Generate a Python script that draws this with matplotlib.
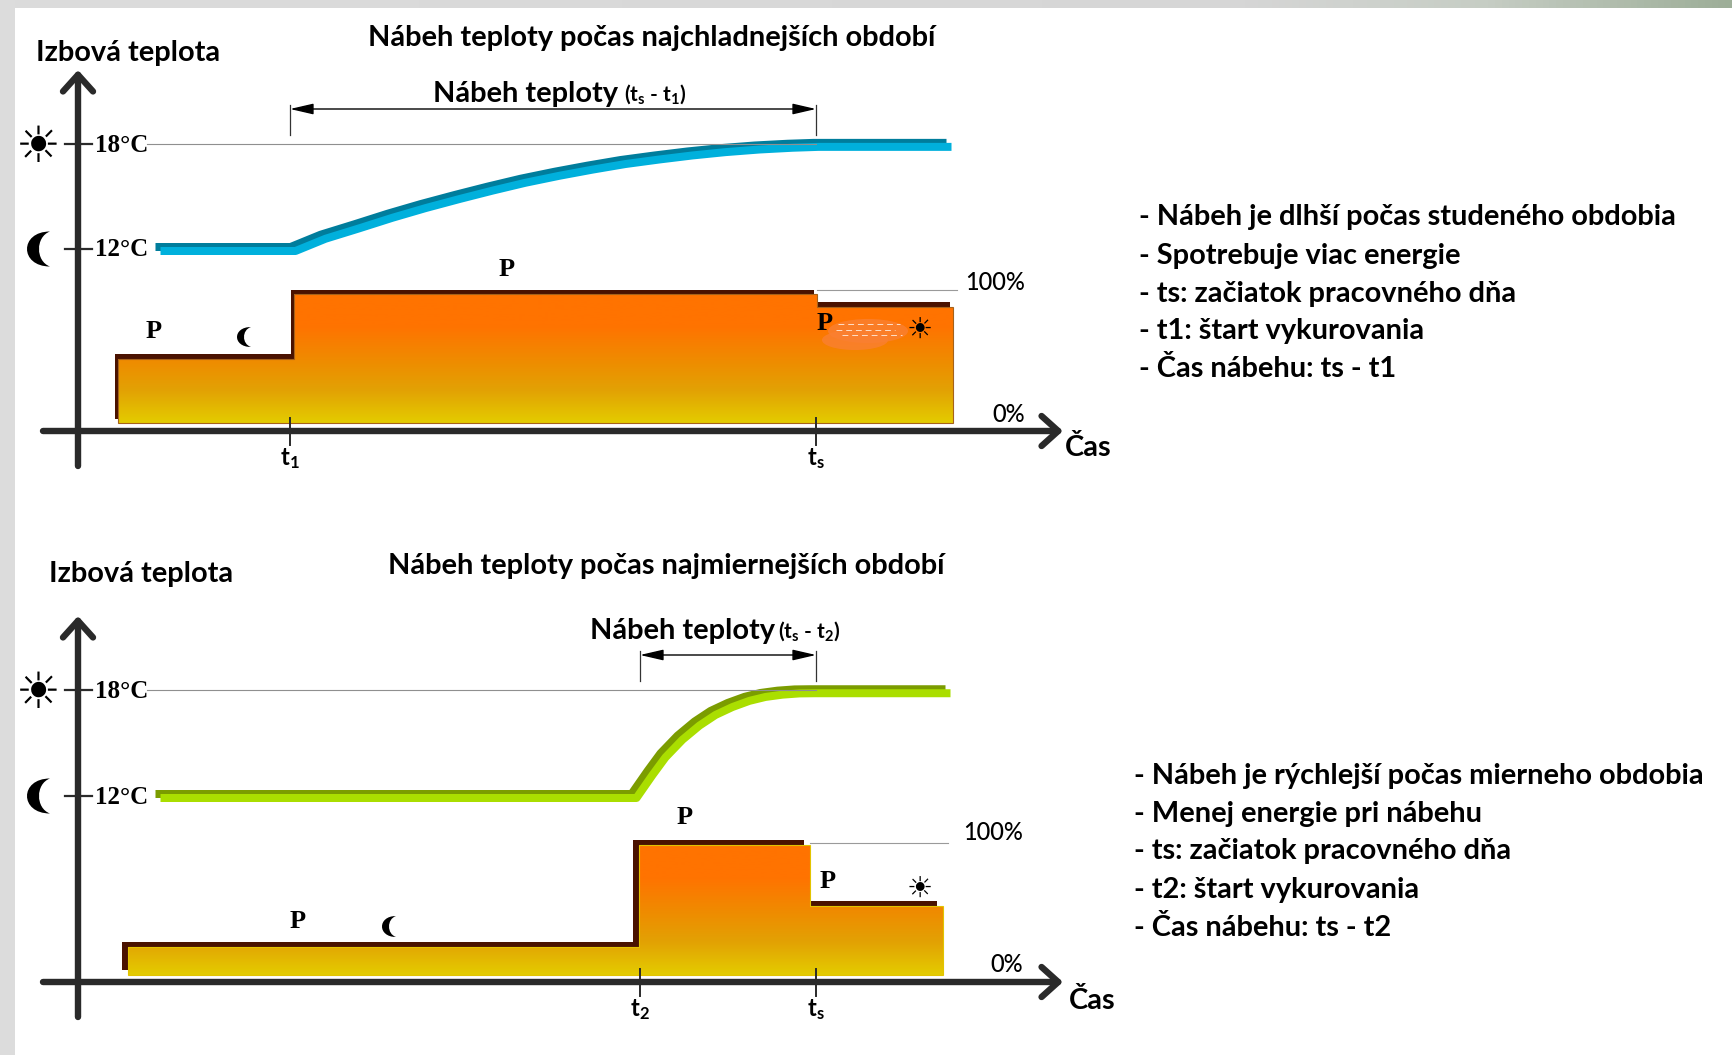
import numpy as np
import matplotlib as mpl

mpl.use('Agg')
import matplotlib.pyplot as plt
from matplotlib.colors import LinearSegmentedColormap
from matplotlib.patches import Ellipse, PathPatch, Polygon, Rectangle
from matplotlib.path import Path
from matplotlib.transforms import offset_copy

W, H = 1732, 1055

# heating curves: time (position along the axis) and room temperature in degC
cold_time = [158, 293, 323, 357, 390, 423, 457, 490, 523, 557, 590, 623, 657,
             690, 723, 757, 790, 816, 949]
cold_temp = [12.0, 12.0, 12.7, 13.3, 13.9, 14.45, 14.97, 15.45, 15.9, 16.3, 16.65,
             16.97, 17.23, 17.46, 17.65, 17.8, 17.9, 17.95, 17.95]
mild_time = [158, 634, 650, 663, 680, 697, 713, 730, 747, 763, 780, 797, 812, 948]
mild_temp = [12.0, 12.0, 13.3, 14.3, 15.3, 16.1, 16.7, 17.15, 17.5, 17.72, 17.85,
             17.92, 17.93, 17.93]

# heating power steps: edges along the time axis, level in percent per step
cold_edges = [118, 294, 817, 953]
cold_power = [50, 100, 90]
mild_edges = [128, 639, 810, 943]
mild_power = [21.5, 100, 53]

cold_notes = ['- Nábeh je dlhší počas studeného obdobia',
              '- Spotrebuje viac energie',
              '- ts: začiatok pracovného dňa',
              '- t1: štart vykurovania',
              '- Čas nábehu: ts - t1']
mild_notes = ['- Nábeh je rýchlejší počas mierneho obdobia',
              '- Menej energie pri nábehu',
              '- ts: začiatok pracovného dňa',
              '- t2: štart vykurovania',
              '- Čas nábehu: ts - t2']

MAIN = 'Lato'
SERIF = 'Liberation Serif'
SYMBOL = 'DejaVu Sans'
AXIS_COLOR = '#2a2a2a'
DARK_BROWN = '#4a1200'
TEXT_SIZE = 20.9

plt.rcParams['font.family'] = MAIN
plt.rcParams['mathtext.fontset'] = 'custom'
plt.rcParams['mathtext.rm'] = 'Lato:bold'
plt.rcParams['mathtext.bf'] = 'Lato:bold'
plt.rcParams['mathtext.it'] = 'Lato:bold'

heat_cmap = LinearSegmentedColormap.from_list(
    'heat', ['#e4cc00', '#e2a204', '#f08a00', '#ff7300', '#ff7300'])

fig = plt.figure(figsize=(W / 100, H / 100), dpi=100, facecolor='white')


def full_axes(y_lim, zorder):
    """Transparent axes over the whole figure, x in figure positions."""
    ax = fig.add_axes([0, 0, 1, 1], zorder=zorder)
    ax.set_xlim(0, W)
    ax.set_ylim(y_lim)
    ax.axis('off')
    return ax


def value_axes(px_a, val_a, px_b, val_b, zorder):
    """Axes whose y scale puts val_a at pixel row px_a and val_b at px_b."""
    slope = (val_b - val_a) / (px_b - px_a)
    return full_axes((val_a + (H - px_a) * slope, val_a - px_a * slope), zorder)


def shifted(ax, dx, dy):
    return offset_copy(ax.transData, fig=fig, x=dx, y=dy, units='dots')


def draw_temperature(ax, time, temp, light, dark):
    ax.plot(time, temp, color=dark, lw=8 * 0.72, solid_capstyle='butt',
            solid_joinstyle='round', transform=shifted(ax, -2.5, 2))
    ax.plot(time, temp, color=light, lw=8 * 0.72, solid_capstyle='butt',
            solid_joinstyle='round', transform=shifted(ax, 2.5, -2))


def draw_power(ax, edges, power, shift_x, shift_y, edge):
    verts = [(edges[0], 0)]
    for i, level in enumerate(power):
        verts += [(edges[i], level), (edges[i + 1], level)]
    verts.append((edges[-1], 0))
    ax.add_patch(Polygon(verts, closed=True, fc=DARK_BROWN, ec='none',
                         transform=shifted(ax, -shift_x, shift_y)))
    outline = Polygon(verts, closed=True, fc='none', ec=edge, lw=0.8)
    ax.add_patch(outline)
    y_lim = ax.get_ylim()
    img = ax.imshow(np.linspace(1, 0, 256).reshape(-1, 1), cmap=heat_cmap,
                    vmin=0, vmax=1, aspect='auto', zorder=1.5,
                    extent=(edges[0], edges[-1], 0, 100))
    img.set_clip_path(outline)
    outline.set_zorder(1.6)
    ax.set_xlim(0, W)
    ax.set_ylim(y_lim)


def label(ax, x, y, s, size=TEXT_SIZE, family=MAIN, weight='bold', ha='left', zorder=6):
    ax.text(x, y + (2 if family == MAIN else 1), s, fontsize=size, family=family,
            fontweight=weight, ha=ha, va='center', color='black', zorder=zorder)


def moon(ax, left, right, top, bottom, inner):
    """Filled crescent, horns on the right."""
    mid = (top + bottom) / 2
    outer_c = (8 * left - 2 * right) / 6
    inner_c = (8 * inner - 2 * right) / 6
    verts = [(right, top), (outer_c, top), (outer_c, bottom), (right, bottom),
             (inner_c, bottom - (bottom - mid) * 0.3),
             (inner_c, top + (mid - top) * 0.3), (right, top)]
    codes = [Path.MOVETO, Path.CURVE4, Path.CURVE4, Path.CURVE4,
             Path.CURVE4, Path.CURVE4, Path.CURVE4]
    ax.add_patch(PathPatch(Path(verts, codes), fc='black', ec='none', zorder=6))


def axis_arrow(ax, start, end):
    ax.annotate('', xy=end, xytext=start, zorder=4, arrowprops=dict(
        arrowstyle='->,head_length=0.4,head_width=0.36', color=AXIS_COLOR,
        lw=4.6, mutation_scale=30, shrinkA=0, shrinkB=0))


def span_arrow(ax, x0, x1, y, y_top, y_bottom):
    ax.annotate('', xy=(x1, y), xytext=(x0, y), zorder=4, arrowprops=dict(
        arrowstyle='<|-|>,head_length=0.65,head_width=0.15', color='black',
        lw=1, mutation_scale=22, shrinkA=0, shrinkB=0))
    for x in (x0, x1):
        ax.plot([x, x], [y_top, y_bottom], color='#333333', lw=0.9)


def draw_panel(ax, spec):
    x_axis = spec['x_axis']
    axis_arrow(ax, (43, x_axis), (1063, x_axis))
    axis_arrow(ax, (78, spec['y_bottom']), (78, spec['y_tip']))

    # temperature ticks with their reference line and symbols
    for row, text in ((spec['row18'], '18°C'), (spec['row12'], '12°C')):
        ax.plot([65, 92], [row, row], color=AXIS_COLOR, lw=1.6)
        label(ax, 95, row, text, size=18, family=SERIF)
    ax.plot([147, spec['ts']], [spec['row18'], spec['row18']], color='#8f8f8f', lw=0.8)
    label(ax, 38, spec['row18'] + 3, '\u2600', size=36, family=SYMBOL, weight='normal', ha='center')
    moon(ax, 27, 50, spec['row12'] - 17.5, spec['row12'] + 17.5, 39)

    # time ticks
    for x, text in ((spec['t_start'], spec['t_label']), (spec['ts'], r'$\mathbf{t_{s}}$')):
        ax.plot([x, x], [x_axis - 13, x_axis + 14], color=AXIS_COLOR, lw=1.4, zorder=5)
        label(ax, x, x_axis + 26, text, size=17, ha='center')

    # percentage scale
    ax.plot([spec['line100_x'], spec['line100_end']], [spec['row100'], spec['row100']],
            color='#9a9a9a', lw=0.8)
    label(ax, spec['pct_right'], spec['pct100_y'], '100%', size=17, weight='medium', ha='right')
    label(ax, spec['pct_right'], spec['pct0_y'], '0%', size=17, weight='medium', ha='right')

    span_arrow(ax, spec['t_start'], spec['ts'], spec['span_y'], spec['span_y'] - 4, spec['span_y'] + 26)
    label(ax, spec['title'][0], spec['title'][1], spec['title'][2])
    label(ax, spec['ylabel'][0], spec['ylabel'][1], 'Izbová teplota')
    label(ax, spec['span_text'][0], spec['span_text'][1], 'Nábeh teploty')
    label(ax, spec['span_math'][0], spec['span_math'][1], spec['span_math'][2], size=15)
    label(ax, 1065 + spec['cas_dx'], spec['cas_y'], 'Čas')
    for (x, y) in spec['p_marks']:
        label(ax, x, y, 'P', size=19, family=SERIF, ha='center')
    x, y = spec['small_sun']
    label(ax, x, y, '\u2600', size=21, family=SYMBOL, weight='normal', ha='center')
    moon(ax, *spec['small_moon'])
    for i, row in enumerate(spec['note_rows']):
        label(ax, spec['note_x'], row, spec['notes'][i])


px = full_axes((H, 0), 5)

# page frame: top strip fading to grey green, plain left strip
strip = LinearSegmentedColormap.from_list(
    'strip', [(0, '#dcdcdc'), (0.72, '#d6d6d6'), (0.86, '#c6cdc4'), (1, '#9dae98')])
px.imshow(np.linspace(0, 1, 512).reshape(1, -1), cmap=strip, aspect='auto',
          extent=(0, W, 8, 0), zorder=0)
px.add_patch(Rectangle((0, 0), 15, H, fc='#dcdcdc', ec='none', zorder=0.5))
px.set_xlim(0, W)
px.set_ylim(H, 0)

# upper panel
cold_t = value_axes(249, 12, 144, 18, 2)
cold_p = value_axes(423, 0, 294, 100, 3)
draw_temperature(cold_t, cold_time, cold_temp, '#00b0dc', '#007d9c')
draw_power(cold_p, cold_edges, cold_power, 3.5, 4.5, '#a5621a')

draw_panel(px, dict(
    x_axis=431, y_tip=70, y_bottom=466, row18=144, row12=249, t_start=290, ts=816,
    t_label=r'$\mathbf{t_{1}}$', row100=290, line100_x=817, line100_end=957, span_y=109,
    pct_right=1025, pct100_y=281, pct0_y=413,
    title=(368, 36, 'Nábeh teploty počas najchladnejších období'),
    ylabel=(36, 51), span_text=(433, 92),
    span_math=(624, 92, r'$\mathbf{(t_{s}}$ - $\mathbf{t_{1})}$'),
    cas_dx=0, cas_y=446,
    p_marks=[(154, 331), (507, 269), (825, 323)],
    small_sun=(920, 330), small_moon=(237, 251, 327, 347, 244),
    notes=cold_notes, note_x=1139, note_rows=[215, 254, 292, 329, 367]))

# the retouched patch next to the last P
px.add_patch(Ellipse((868, 331), 80, 24, fc='#fa8032', ec='none', alpha=0.8, zorder=5))
px.add_patch(Ellipse((855, 340), 66, 20, fc='#fa8032', ec='none', alpha=0.8, zorder=5))
for row, start, end in ((324, 838, 900), (330, 836, 895), (335, 842, 902)):
    px.plot([start, end], [row, row], color='#ffe0c8', lw=0.7, ls=(0, (6, 4)), zorder=5.5)

# lower panel
mild_t = value_axes(796, 12, 690, 18, 2)
mild_p = value_axes(975, 0, 845, 100, 3)
draw_temperature(mild_t, mild_time, mild_temp, '#aade00', '#7b9c00')
draw_power(mild_p, mild_edges, mild_power, 6, 5, '#e2c400')

draw_panel(px, dict(
    x_axis=982, y_tip=616, y_bottom=1017, row18=690, row12=796, t_start=640, ts=816,
    t_label=r'$\mathbf{t_{2}}$', row100=843, line100_x=810, line100_end=948, span_y=655,
    pct_right=1023, pct100_y=831, pct0_y=963,
    title=(388, 564, 'Nábeh teploty počas najmiernejších období'),
    ylabel=(49, 572), span_text=(590, 629),
    span_math=(778, 629, r'$\mathbf{(t_{s}}$ - $\mathbf{t_{2})}$'),
    cas_dx=4, cas_y=999,
    p_marks=[(685, 816), (828, 881), (298, 921)],
    small_sun=(920, 889), small_moon=(382, 396, 916, 937, 389),
    notes=mild_notes, note_x=1134, note_rows=[774, 812, 849, 888, 926]))

fig.savefig('out.png', dpi=100)
plt.close(fig)
